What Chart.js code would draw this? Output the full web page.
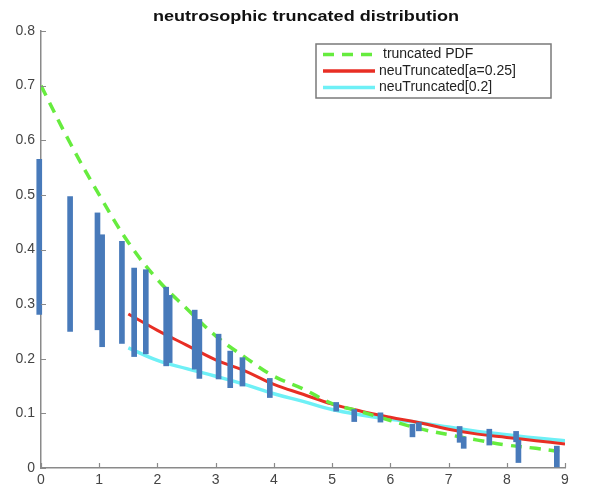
<!DOCTYPE html>
<html>
<head>
<meta charset="utf-8">
<script src="https://cdn.jsdelivr.net/npm/chart.js@4"></script>
<style>
html, body { margin: 0; padding: 0; background: #fff; }
#wrap { width: 590px; height: 489px; position: relative; }
</style>
</head>
<body>
<div id="wrap"><canvas id="chart"></canvas></div>
<script>
// curves
const pdfX = [0, 0.5, 1, 1.5, 2, 2.5, 3, 3.5, 4, 4.5, 5, 5.5, 6, 6.5, 7, 7.5, 8, 8.5, 9];
const pdfY = [0.700, 0.595, 0.500, 0.413, 0.345, 0.292, 0.242, 0.203, 0.168, 0.145, 0.118, 0.103, 0.087, 0.072, 0.061, 0.051, 0.042, 0.036, 0.029];

const neuX = [1.5, 2, 2.5, 3, 3.5, 4, 4.5, 5, 5.5, 6, 6.5, 7, 7.5, 8, 8.5, 9];
const neuA025 = [0.282, 0.252, 0.225, 0.198, 0.178, 0.153, 0.135, 0.117, 0.104, 0.093, 0.083, 0.071, 0.062, 0.056, 0.050, 0.044];
const neu02 = [0.220, 0.197, 0.182, 0.168, 0.153, 0.136, 0.122, 0.107, 0.097, 0.089, 0.083, 0.075, 0.067, 0.061, 0.055, 0.050];

// interval bars
const barX    = [-0.03, 0.50, 0.97, 1.05, 1.39, 1.60, 1.80, 2.15, 2.21, 2.64, 2.72, 3.05, 3.25, 3.46, 3.93, 5.07, 5.38, 5.83, 6.38, 6.49, 7.19, 7.26, 7.70, 8.16, 8.20, 8.86];
const barLow  = [0.281, 0.250, 0.253, 0.222, 0.228, 0.204, 0.209, 0.187, 0.193, 0.181, 0.164, 0.163, 0.147, 0.150, 0.129, 0.104, 0.085, 0.084, 0.057, 0.068, 0.047, 0.036, 0.042, 0.048, 0.010, 0.002];
const barHigh = [0.565, 0.497, 0.467, 0.427, 0.415, 0.366, 0.363, 0.331, 0.316, 0.289, 0.272, 0.245, 0.214, 0.202, 0.164, 0.120, 0.107, 0.101, 0.080, 0.083, 0.076, 0.057, 0.071, 0.067, 0.051, 0.040];

const xTicks = [0, 1, 2, 3, 4, 5, 6, 7, 8, 9];
const yTicks = [0, 0.1, 0.2, 0.3, 0.4, 0.5, 0.6, 0.7, 0.8];

const chartTitle = 'neutrosophic truncated distribution';
const legendLabels = ['truncated PDF', 'neuTruncated[a=0.25]', 'neuTruncated[0.2]'];

const green = 'rgb(102,236,62)';
const red = 'rgb(232,46,36)';
const cyan = 'rgb(110,240,246)';
const blue = 'rgb(72,122,186)';
const axisGrey = '#8a8a8a';
const font = '"Liberation Sans", Arial, sans-serif';

function pts(xs, ys) {
    return xs.map((x, i) => ({x: x, y: ys[i]}));
}

let bars = barX.map((x, i) => ({x: x, y: [barLow[i], barHigh[i]]}));

// title, inward ticks and boxed legend
const decor = {
    id: 'decor',
    afterDraw(chart) {
        const ctx = chart.ctx;
        const a = chart.chartArea;
        const xs = chart.scales.x, ys = chart.scales.y;
        ctx.save();

        // title is drawn a bit wide, like the original
        ctx.fillStyle = '#111';
        ctx.font = 'bold 15px ' + font;
        ctx.textAlign = 'center';
        ctx.textBaseline = 'middle';
        const tw = ctx.measureText(chartTitle).width;
        ctx.save();
        ctx.translate(306, 16.5);
        ctx.scale(306 / tw, 1);
        ctx.fillText(chartTitle, 0, 0);
        ctx.restore();

        ctx.strokeStyle = axisGrey;
        ctx.lineWidth = 1.2;
        ctx.beginPath();
        yTicks.forEach(v => {
            const y = Math.round(ys.getPixelForValue(v)) + 0.5;
            ctx.moveTo(a.left, y); ctx.lineTo(a.left + 5, y);
        });
        xTicks.forEach(v => {
            const x = Math.round(xs.getPixelForValue(v)) + 0.5;
            ctx.moveTo(x, a.bottom); ctx.lineTo(x, a.bottom - 5);
        });
        ctx.stroke();

        // legend box
        const bx = 316, by = 44, bw = 235, bh = 54;
        ctx.fillStyle = '#fff';
        ctx.fillRect(bx, by, bw, bh);
        ctx.strokeStyle = '#7a7a7a';
        ctx.lineWidth = 1.5;
        ctx.strokeRect(bx, by, bw, bh);
        const rows = [54.5, 71, 87.5];
        const styles = [[green, [11, 8]], [red, []], [cyan, []]];
        ctx.font = '14px ' + font;
        ctx.textAlign = 'left';
        rows.forEach((y, i) => {
            ctx.strokeStyle = styles[i][0];
            ctx.setLineDash(styles[i][1]);
            ctx.lineWidth = 3.5;
            ctx.beginPath();
            ctx.moveTo(323, y); ctx.lineTo(375, y);
            ctx.stroke();
            ctx.setLineDash([]);
            ctx.fillStyle = '#222';
            ctx.fillText(legendLabels[i], i === 0 ? 383 : 379, y);
        });
        ctx.restore();
    }
};

const data = {
    datasets: [
        {
            type: 'bar',
            label: 'intervals',
            data: bars,
            backgroundColor: blue,
            borderWidth: 0,
            barThickness: 5,
            grouped: false,
            clip: false,
            order: 0
        },
        {
            type: 'line',
            label: legendLabels[0],
            data: pts(pdfX, pdfY),
            borderColor: green,
            borderWidth: 3.5,
            borderDash: [11, 8],
            pointRadius: 0,
            tension: 0.4,
            order: 1
        },
        {
            type: 'line',
            label: legendLabels[1],
            data: pts(neuX, neuA025),
            borderColor: red,
            borderWidth: 3,
            pointRadius: 0,
            tension: 0.4,
            order: 2
        },
        {
            type: 'line',
            label: legendLabels[2],
            data: pts(neuX, neu02),
            borderColor: cyan,
            borderWidth: 3.5,
            pointRadius: 0,
            tension: 0.4,
            order: 3
        }
    ]
};

const config = {
    type: 'bar',
    data: data,
    options: {
        responsive: true,
        maintainAspectRatio: false,
        animation: false,
        layout: {padding: {top: 31, right: 25, bottom: 0, left: 0}},
        plugins: {
            legend: {display: false},
            title: {display: false},
            tooltip: {enabled: false}
        },
        scales: {
            x: {
                type: 'linear',
                offset: false,
                min: 0,
                max: 9,
                afterBuildTicks: s => { s.ticks = xTicks.map(v => ({value: v})); },
                afterFit: s => { s.height = 21; },
                grid: {display: false, drawTicks: false},
                border: {display: true, color: axisGrey, width: 1.5},
                ticks: {
                    color: '#444',
                    font: {family: font, size: 14},
                    padding: 4,
                    maxRotation: 0,
                    callback: v => String(v)
                }
            },
            y: {
                type: 'linear',
                min: 0,
                max: 0.8,
                afterBuildTicks: s => { s.ticks = yTicks.map(v => ({value: v})); },
                afterFit: s => { s.width = 41; },
                grid: {display: false, drawTicks: false},
                border: {display: true, color: axisGrey, width: 1.5},
                ticks: {
                    color: '#444',
                    font: {family: font, size: 14},
                    padding: 6,
                    callback: v => v === 0 ? '0' : v.toFixed(1)
                }
            }
        }
    },
    plugins: [decor]
};

const chart = new Chart(document.getElementById('chart'), config);
</script>
</body>
</html>
